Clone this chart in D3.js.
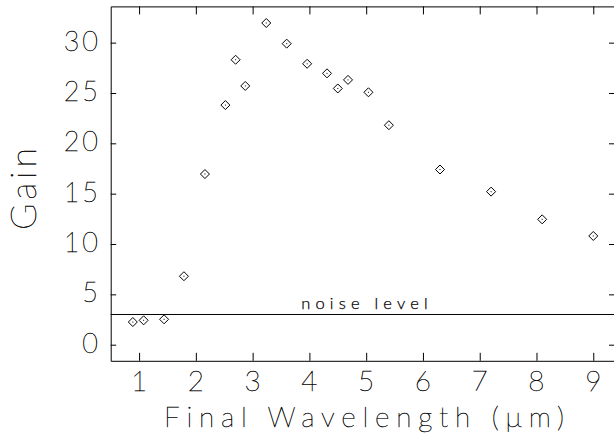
<!DOCTYPE html>
<html>
<head>
<meta charset="utf-8">
<script src="https://cdn.jsdelivr.net/npm/d3@7"></script>
<style>
  html, body { margin: 0; padding: 0; background: #fff; }
  text { font-family: "Lato", "DejaVu Sans", sans-serif; font-weight: 200; fill: #000; stroke: #000; stroke-width: 0.4; }
</style>
</head>
<body>
<svg id="chart" width="614" height="435"></svg>
<script>
// ---- data ----
const wavelength = [0.89, 1.08, 1.44, 1.79, 2.16, 2.52, 2.70, 2.87, 3.24, 3.60, 3.96, 4.31, 4.50, 4.68, 5.04, 5.40, 6.30, 7.20, 8.10, 9.00];
const gain       = [2.25, 2.42, 2.52, 6.8, 16.95, 23.8, 28.3, 25.7, 31.95, 29.9, 27.9, 26.95, 25.45, 26.3, 25.07, 21.8, 17.4, 15.2, 12.45, 10.8];
const xTicks = [1, 2, 3, 4, 5, 6, 7, 8, 9];
const yTicks = [0, 5, 10, 15, 20, 25, 30];
const noiseLevel = 3;
const xTitle = "Final Wavelength (\u03bcm)";
const yTitle = "Gain";
const noiseLabel = "noise level";

// ---- layout ----
const svg = d3.select("#chart");
const L = 110.7, R = 614.5, T = 6.4, B = 360.8;
const x = d3.scaleLinear().domain([0.5, 9.374]).range([L, R]);
const y = d3.scaleLinear().domain([-1.6, 33.6]).range([B, T]);

const g = svg.append("g");

// frame axes with inward ticks
const axisStyle = sel => {
  sel.select(".domain").attr("stroke", "#000").attr("stroke-width", 1);
  sel.selectAll(".tick line").attr("stroke", "#000").attr("stroke-width", 1);
  sel.selectAll(".tick text").remove();
};
g.append("g").attr("transform", `translate(0,${B})`)
  .call(d3.axisBottom(x).tickValues(xTicks).tickSizeInner(-8).tickSizeOuter(0)).call(axisStyle);
g.append("g").attr("transform", `translate(0,${T})`)
  .call(d3.axisTop(x).tickValues(xTicks).tickSizeInner(-8).tickSizeOuter(0)).call(axisStyle);
g.append("g").attr("transform", `translate(${L},0)`)
  .call(d3.axisLeft(y).tickValues(yTicks).tickSizeInner(-5.5).tickSizeOuter(0)).call(axisStyle);
g.append("g").attr("transform", `translate(${R},0)`)
  .call(d3.axisRight(y).tickValues(yTicks).tickSizeInner(-5.5).tickSizeOuter(0)).call(axisStyle);

// tick labels
g.selectAll(".xl").data(xTicks).join("text")
  .attr("x", d => x(d)).attr("y", 391)
  .attr("text-anchor", "middle").attr("font-size", 28)
  .text(d => d);
g.selectAll(".yl").data(yTicks).join("text")
  .attr("x", 101).attr("y", d => y(d) + 8)
  .attr("text-anchor", "end").attr("font-size", 27)
  .attr("letter-spacing", 3)
  .text(d => d);

// titles
g.append("text").attr("x", 364).attr("y", 427)
  .attr("text-anchor", "middle").attr("font-size", 28)
  .attr("textLength", 400).attr("lengthAdjust", "spacing")
  .text(xTitle);
g.append("text").attr("transform", "translate(36,189) rotate(-90)")
  .attr("text-anchor", "middle").attr("font-size", 36)
  .attr("textLength", 82).attr("lengthAdjust", "spacing")
  .text(yTitle);

// noise level line + label
g.append("line").attr("x1", L).attr("x2", R)
  .attr("y1", y(noiseLevel)).attr("y2", y(noiseLevel))
  .attr("stroke", "#000").attr("stroke-width", 1);
g.append("text").attr("x", 367).attr("y", y(noiseLevel) - 5)
  .attr("text-anchor", "middle").attr("font-size", 16.5)
  .attr("letter-spacing", 5.2)
  .style("font-weight", 300).style("stroke-width", 0.25)
  .text(noiseLabel);

// markers
const pts = wavelength.map((w, i) => ({ w, v: gain[i] }));
const s = 4.5;
const pg = g.selectAll(".pt").data(pts).join("g")
  .attr("transform", d => `translate(${x(d.w)},${y(d.v)})`);
pg.append("path")
  .attr("d", `M0,${-s}L${s},0L0,${s}L${-s},0Z`)
  .attr("fill", "none").attr("stroke", "#000").attr("stroke-width", 1);
pg.append("rect").attr("x", -0.5).attr("y", -0.5).attr("width", 1).attr("height", 1).attr("fill", "#000");
</script>
</body>
</html>
